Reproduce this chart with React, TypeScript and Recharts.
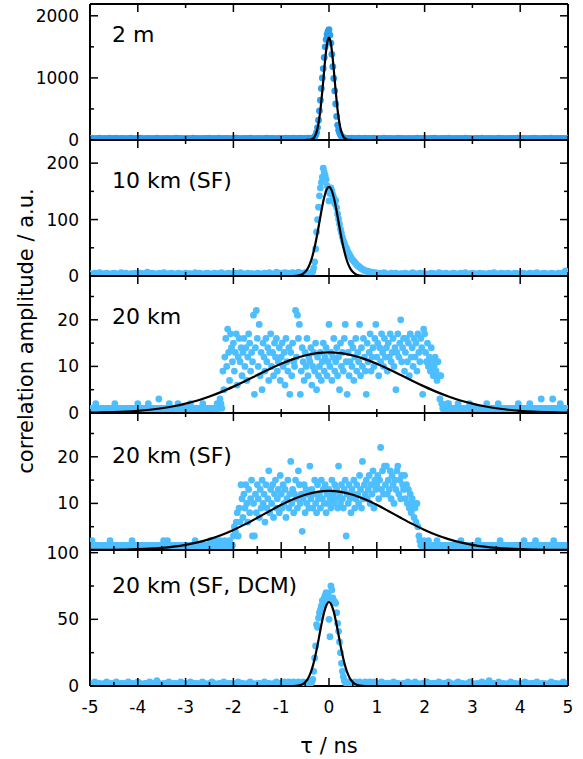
import React from 'react';
import { ComposedChart, Scatter, Line, XAxis, YAxis } from 'recharts';

// ---------------- labels & ticks ----------------
const panelLabels = ['2 m', '10 km (SF)', '20 km', '20 km (SF)', '20 km (SF, DCM)'];
const xTitle = 'τ / ns';
const yTitle = 'correlation amplitude / a.u.';
const xIntTicks = [-5, -4, -3, -2, -1, 0, 1, 2, 3, 4, 5];
const xHalfTicks = [-5, -4.5, -4, -3.5, -3, -2.5, -2, -1.5, -1, -0.5, 0, 0.5, 1, 1.5, 2, 2.5, 3, 3.5, 4, 4.5, 5];
const m2YTicks = [0, 500, 1000, 1500, 2000];
const m2YMajor = [0, 1000, 2000];
const km10YTicks = [0, 50, 100, 150, 200];
const km10YMajor = [0, 100, 200];
const km20YTicks = [0, 5, 10, 15, 20, 25];
const km20YMajor = [0, 10, 20];
const km20sfYMajor = [10, 20]; // its 0 label coincides with the "100" of the panel below
const dcmYTicks = [0, 25, 50, 75, 100];
const dcmYMajor = [0, 50, 100];

// ---------------- measured data (tau bins on regular grids) ----------------
// narrow panels: wings every 0.05 ns, core (-1..1) every 0.02 ns
// 2 m
const m2Left = [24,27,22,25,29,23,26,21,28,25,24,30,22,26,27,23,25,28,24,22,26,29,25,23,27,24,21,26,28,25,23,27,24,26,22,25,29,24,27,23,26,25,22,28,24,26,23,27,25,24,29,22,26,25,28,23,24,27,26,22,25,28,24,23,27,26,25,29,24,22,26,27,23,25,28,24,26,25,23,27];
const m2Core = [25,27,23,26,24,28,22,25,27,24,26,23,25,29,24,26,22,27,25,24,28,23,26,25,24,27,23,26,25,28,24,26,27,
  30,36,50,75,120,200,320,470,640,830,1000,1150,1330,1500,1620,1700,1750,1775,1690,1560,1380,1180,990,790,580,380,240,160,115,85,60,45,35,30,
  28,26,25,27,24,23,26,28,25,24,27,22,26,25,29,24,23,27,26,25,24,28,23,26,25,27,24,22,26,25,28,24,27,25];
const m2Right = [25,23,28,26,24,27,22,25,29,24,26,23,27,25,21,26,28,24,25,27,23,26,24,29,25,22,27,26,24,28,25,23,26,27,24,22,28,25,26,23,27,24,25,29,23,26,24,27,22,25,28,24,26,23,25,27,24,26,30,23,25,27,22,26,24,28,25,23,26,27,24,25,28,23,26,24,27,25,23,31];
// 10 km (SF)
const km10Left = [4,3,5,4,6,3,4,5,3,4,5,4,3,6,4,5,3,4,4,5,3,5,4,4,7,3,5,4,3,5,4,6,3,4,5,4,3,5,4,3,5,4,4,3,6,4,5,3,4,5,4,3,5,4,4,6,3,4,5,4,3,5,4,6,4,3,5,4,4,3,5,4,3,5,4,6,4,3,7,5];
const km10Core = [4,5,3,4,6,4,5,3,4,5,4,3,6,5,4,4,3,5,7,4,5,4,3,4,5,6,4,3,5,4,
  4,5,6,8,14,25,48,78,100,122,142,156,166,175,191,184,178,171,160,150,133,146,156,151,144,139,128,134,121,110,101,92,83,76,69,63,58,53,50,46,42,39,36,33,30,28,26,24,22,20,18,17,16,14,13,12,11,10,9,9,8,8,7,7,6,7,6,5,6,5,5];
const km10Right = [5,4,6,4,3,5,4,5,3,4,4,5,3,4,6,4,3,5,4,4,3,4,5,4,3,6,4,4,5,3,4,5,4,3,5,4,6,3,4,5,4,3,5,4,4,3,5,4,6,4,3,5,4,4,5,3,4,5,4,3,5,4,3,5,4,4,6,3,4,5,4,3,5,4,3,5,4,6,9,5];
// 20 km (SF, DCM)
const dcmLeft = [2,1,3,2,2,1,2,3,1,2,2,3,1,2,2,1,3,2,2,1,3,2,1,2,2,3,1,2,4,2,1,2,2,3,1,2,2,1,3,2,2,1,3,2,2,2,1,3,2,1,2,3,2,1,2,2,3,1,2,2,1,2,3,2,2,1,2,3,2,1,2,2,1,3,2,2,1,2,3,2];
const dcmCore = [2,1,2,3,2,2,1,2,3,2,1,2,2,3,2,1,2,2,3,1,2,2,1,3,2,2,1,2,2,3,2,
  2,3,5,11,21,30,46,44,51,55,57,60,64,61,66,68,70,65,69,50,37,75,72,66,64,63,62,55,47,41,33,25,17,11,7,4,3,
  2,2,1,3,2,2,1,2,2,3,2,1,2,2,3,2,1,2,2,2,3,1,2,2,2,3,2,1,2,2,3,2,2];
const dcmRight = [2,3,1,2,2,1,3,2,2,1,2,2,3,1,2,3,2,1,2,2,3,1,2,2,2,3,1,2,2,3,2,1,2,3,2,2,1,2,3,2,1,2,2,3,2,1,4,2,2,1,3,2,2,1,2,3,2,2,1,2,2,3,1,2,2,2,3,1,2,2,1,2,3,2,2,1,2,3,2,2];

// broad panels: wings every 0.02 ns, core (-2.4..2.4) every 0.02 ns
// 20 km
const km20Left = [1,0,1,1,0,1,2,1,0,1,1,1,0,1,1,0,1,1,1,0,1,0,1,1,0,1,2,1,1,0,1,1,0,1,1,1,0,1,0,1,1,0,1,1,0,1,1,1,0,1,2,1,0,1,1,0,1,1,0,1,1,2,1,0,1,1,1,0,1,1,0,1,3,1,0,1,1,0,1,1,1,0,1,2,1,0,1,1,0,1,1,1,2,0,1,1,0,1,1,0,1,0,1,1,1,2,0,1,1,0,1,1,0,1,1,0,1,1,2,1,0,1,1,0,1,1,1,0,1,1];
const km20Core = [1,0,1,2,1,1,3,2,1,9,
  5,12,16,10,18,13,7,17,14,11,
  15,9,13,17,6,12,16,11,14,8,
  13,16,10,14,7,12,17,15,9,13,
  11,21,4,14,22,16,10,19,8,13,
  5,15,12,9,16,11,14,7,13,17,
  10,13,8,15,12,16,9,11,14,7,
  12,15,10,13,6,16,11,9,14,4,
  13,8,15,11,10,22,12,21,16,19,
  4,9,14,11,7,13,10,16,8,12,
  11,14,6,10,13,9,15,5,12,8,
  10,13,7,11,15,9,12,14,8,11,
  19,10,13,7,12,16,9,11,14,8,
  12,5,15,10,13,9,16,19,11,4,
  13,8,11,15,10,14,7,12,16,9,
  13,11,19,8,14,10,16,12,9,4,
  15,11,13,17,9,12,14,10,16,19,
  12,15,8,14,11,17,13,10,16,12,
  14,9,15,12,17,11,13,16,10,14,
  5,13,17,12,15,20,11,14,16,9,
  13,16,11,15,8,17,12,14,10,16,
  12,15,9,17,13,11,16,14,4,18,
  17,13,11,15,10,12,9,14,11,8,
  10,12,9,7,11,8,3,8,2,1,
  0];
const km20Right = [1,1,0,2,2,1,0,1,1,0,1,0,1,1,2,1,0,1,1,1,0,1,1,0,1,1,2,1,0,1,1,0,1,1,1,0,1,0,1,1,0,1,1,1,2,0,1,1,0,1,1,0,1,1,0,1,2,1,1,0,1,1,0,1,1,0,1,1,1,0,1,0,1,1,0,1,1,2,0,1,1,1,0,1,1,0,1,1,1,2,0,1,1,0,1,1,0,1,1,1,0,3,1,1,0,1,1,0,1,1,1,0,1,3,1,1,0,1,1,0,1,2,1,0,1,1,1,0,1,1];
// 20 km (SF)
const km20sfLeft = [1,0,2,1,1,0,1,1,0,1,1,1,0,1,0,1,1,1,0,1,1,2,1,0,1,1,0,1,1,1,0,1,1,0,1,1,1,0,1,1,1,0,1,1,2,1,0,1,1,0,1,1,0,1,1,1,0,1,1,0,1,0,1,1,0,1,1,1,0,1,1,1,0,1,1,0,1,2,1,0,1,2,1,0,1,1,0,1,1,1,0,1,1,1,0,1,1,0,1,1,1,0,1,1,1,0,1,1,0,1,2,1,0,1,1,1,0,1,1,0,1,1,0,1,1,1,2,1,0,1];
const km20sfCore = [1,2,1,0,1,1,2,1,0,1,
  1,2,1,0,1,1,2,1,0,1,
  3,5,4,6,8,3,9,6,14,11,
  7,12,9,14,10,6,13,8,11,15,
  3,10,3,12,8,14,11,7,13,9,
  15,10,12,6,14,9,11,17,8,13,
  10,14,7,12,15,9,11,13,8,16,
  12,9,14,10,13,7,11,15,9,12,
  19,10,13,8,12,15,11,9,17,14,
  10,12,4,11,14,8,13,10,12,9,
  18,11,13,9,12,15,10,8,14,11,
  12,9,15,11,13,10,14,8,12,10,
  13,11,9,15,12,10,14,11,13,9,
  18,12,10,14,11,9,13,15,3,12,
  10,14,11,8,13,12,15,9,11,14,
  12,10,16,13,9,19,11,14,12,15,
  11,13,16,10,14,12,17,9,15,13,
  14,16,11,15,22,13,17,12,18,14,
  18,12,15,13,17,11,16,14,10,15,
  13,17,18,12,15,11,16,14,13,16,
  11,14,10,13,9,12,8,11,10,7,
  9,6,10,5,3,2,1,1,0,2,
  1,1,0,1,2,1,0,1,1,1,
  0,1,1,2,1,0,1,1,0,1,
  1];
const km20sfRight = [1,1,0,1,1,0,1,1,1,0,1,0,1,1,0,1,1,2,1,1,0,1,1,1,0,1,1,0,1,1,1,0,1,1,1,2,0,1,1,0,1,1,0,1,1,1,0,1,0,1,1,0,1,1,1,0,1,1,2,1,0,1,1,0,1,1,1,0,1,1,1,1,0,1,1,0,1,1,1,0,1,0,1,2,1,1,0,1,1,1,0,1,1,1,0,2,1,0,1,1,1,1,0,1,1,1,0,1,1,0,1,0,1,1,2,1,1,0,1,1,0,1,1,1,0,1,1,1,0,1];

// ---------------- Gaussian fit curves (tabulated) ----------------
const fitM2Tau = [-5,-1,-0.6,-0.5,-0.45,-0.4,-0.375,-0.35,-0.325,-0.3,-0.275,-0.25,-0.225,-0.2,-0.175,-0.15,-0.125,-0.1,-0.075,-0.05,-0.025,0,0.025,0.05,0.075,0.1,0.125,0.15,0.175,0.2,0.225,0.25,0.275,0.3,0.325,0.35,0.375,0.4,0.45,0.5,0.6,1,5];
const fitM2 = [0,0,0,0.1,0.8,3.9,8.1,16.1,30.4,54.9,94.6,155,243,364,518,705,914,1131,1334,1501,1611,1650,1611,1501,1334,1131,914,705,518,364,243,155,94.6,54.9,30.4,16.1,8.1,3.9,0.8,0.1,0,0,0];
const fitNarrowTau = [-5,-1,-0.8,-0.7,-0.6,-0.55,-0.5,-0.45,-0.4,-0.35,-0.3,-0.25,-0.2,-0.15,-0.1,-0.05,0,0.05,0.1,0.15,0.2,0.25,0.3,0.35,0.4,0.45,0.5,0.55,0.6,0.7,0.8,1,5];
const fitKm10 = [0,0,0,0.3,1.8,3.6,6.9,12.6,21.4,34.2,51.3,72.3,95.8,119.3,139.4,153.1,158,153.1,139.4,119.3,95.8,72.3,51.3,34.2,21.4,12.6,6.9,3.6,1.8,0.3,0,0,0];
const fitDcm = [0,0,0,0.14,0.7,1.4,2.8,5.0,8.5,13.6,20.5,28.8,38.2,47.6,55.6,61.0,63,61.0,55.6,47.6,38.2,28.8,20.5,13.6,8.5,5.0,2.8,1.4,0.7,0.14,0,0,0];
// broad fits tabulated every 0.25 ns from -5 to 5
const fitKm20 = [0.07,0.12,0.19,0.30,0.47,0.70,1.02,1.44,2.00,2.69,3.54,4.53,5.66,6.87,8.14,9.39,10.56,11.56,12.34,12.83,13.00,12.83,12.34,11.56,10.56,9.39,8.14,6.87,5.66,4.53,3.54,2.69,2.00,1.44,1.02,0.70,0.47,0.30,0.19,0.12,0.07];
const fitKm20sf = [0.02,0.03,0.05,0.10,0.17,0.28,0.46,0.73,1.11,1.64,2.34,3.23,4.31,5.55,6.91,8.32,9.69,10.91,11.87,12.49,12.70,12.49,11.87,10.91,9.69,8.32,6.91,5.55,4.31,3.23,2.34,1.64,1.11,0.73,0.46,0.28,0.17,0.10,0.05,0.03,0.02];

// ---------------- helpers ----------------
type Pt = { x: number; y: number };
const onGrid = (start: number, step: number, vals: number[]): Pt[] =>
  vals.map((v, i) => ({ x: Math.round((start + i * step) * 1000) / 1000, y: v }));
const zipPts = (xs: number[], ys: number[]): Pt[] => xs.map((x, i) => ({ x, y: ys[i] }));
const narrowPts = (l: number[], c: number[], r: number[]) => [...onGrid(-5, 0.05, l), ...onGrid(-1, 0.02, c), ...onGrid(1.05, 0.05, r)];
const broadPts = (l: number[], c: number[], r: number[]) => [...onGrid(-5, 0.02, l), ...onGrid(-2.4, 0.02, c), ...onGrid(2.42, 0.02, r)];

const FONT = 'DejaVu Sans, Verdana, sans-serif';
const BLUE = '#4DBEFF';
const DOT_R = 3.4;

type Mode = 'even' | 'half';
const PANELS = [
  { label: panelLabels[0], top: 4, bottom: 140, yMax: 2190, yTicks: m2YTicks, yMajor: m2YMajor, yLabels: m2YMajor, color: '#2B9FEE',
    points: narrowPts(m2Left, m2Core, m2Right), fit: zipPts(fitM2Tau, fitM2), topMode: 'even' as Mode, bottomMode: 'even' as Mode, labelY: 42 },
  { label: panelLabels[1], top: 140, bottom: 276, yMax: 241, yTicks: km10YTicks, yMajor: km10YMajor, yLabels: km10YMajor, color: BLUE,
    points: narrowPts(km10Left, km10Core, km10Right), fit: zipPts(fitNarrowTau, fitKm10), topMode: 'even' as Mode, bottomMode: 'even' as Mode, labelY: 188 },
  { label: panelLabels[2], top: 276, bottom: 413, yMax: 29.4, yTicks: km20YTicks, yMajor: km20YMajor, yLabels: km20YMajor, color: BLUE,
    points: broadPts(km20Left, km20Core, km20Right), fit: onGrid(-5, 0.25, fitKm20), topMode: 'even' as Mode, bottomMode: 'even' as Mode, labelY: 324 },
  { label: panelLabels[3], top: 413, bottom: 550, yMax: 29.4, yTicks: km20YTicks, yMajor: km20YMajor, yLabels: km20sfYMajor, color: BLUE,
    points: broadPts(km20sfLeft, km20sfCore, km20sfRight), fit: onGrid(-5, 0.25, fitKm20sf), topMode: 'even' as Mode, bottomMode: 'half' as Mode, labelY: 463 },
  { label: panelLabels[4], top: 550, bottom: 686, yMax: 102, yTicks: dcmYTicks, yMajor: dcmYMajor, yLabels: dcmYMajor, color: BLUE,
    points: narrowPts(dcmLeft, dcmCore, dcmRight), fit: zipPts(fitNarrowTau, fitDcm), topMode: 'half' as Mode, bottomMode: 'half' as Mode, labelY: 593 },
];

const AXIS = { stroke: '#000', strokeWidth: 2 };

function makeXTick(side: 'top' | 'bottom', mode: Mode, labels: boolean) {
  return (p: any) => {
    const v = p.payload.value;
    const major = mode === 'even' ? Math.abs(v % 2) === 0 : Number.isInteger(v);
    const len = major ? 8 : 4;
    const y2 = side === 'bottom' ? p.y - len : p.y + len;
    return (
      <g>
        <line x1={p.x} x2={p.x} y1={p.y} y2={y2} stroke="#000" strokeWidth={1.5} />
        {labels && major ? (
          <text x={p.x} y={p.y + 27} textAnchor="middle" fontSize={17} fontFamily={FONT} fill="#000">{String(v)}</text>
        ) : null}
      </g>
    );
  };
}

function makeYTick(side: 'left' | 'right', majors: number[], labelled: number[] | null) {
  return (p: any) => {
    const v = p.payload.value;
    const major = majors.includes(v);
    const len = major ? 8 : 4;
    const x2 = side === 'left' ? p.x + len : p.x - len;
    return (
      <g>
        <line x1={p.x} x2={x2} y1={p.y} y2={p.y} stroke="#000" strokeWidth={1.5} />
        {labelled && labelled.includes(v) ? (
          <text x={p.x - 11} y={p.y + 6} textAnchor="end" fontSize={17} fontFamily={FONT} fill="#000">{String(v)}</text>
        ) : null}
      </g>
    );
  };
}

export default function App() {
  return (
    <div style={{ position: 'absolute', left: 0, top: 0, width: 583, height: 759, background: '#fff', overflow: 'hidden' }}>
      {PANELS.map((p, idx) => {
        const last = idx === PANELS.length - 1;
        const mb = last ? 72 : 11;
        const h = 12 + (p.bottom - p.top) + 1 + mb;
        const color = p.color;
        return (
          <React.Fragment key={idx}>
            <div style={{ position: 'absolute', left: 0, top: p.top - 12 }}>
              <ComposedChart width={583} height={h} margin={{ top: 11, right: 14, bottom: mb, left: 0 }}>
                <Scatter
                  xAxisId="b"
                  yAxisId="l"
                  data={p.points}
                  dataKey="y"
                  isAnimationActive={false}
                  shape={(s: any) => <circle cx={s.cx} cy={s.cy} r={DOT_R} fill={color} />}
                />
                <XAxis xAxisId="b" dataKey="x" type="number" domain={[-5, 5]} allowDataOverflow
                  ticks={p.bottomMode === 'even' ? xIntTicks : xHalfTicks} interval={0}
                  tickSize={0} tickMargin={0} tickLine={false} axisLine={AXIS} height={1}
                  tick={makeXTick('bottom', p.bottomMode, last)} />
                <XAxis xAxisId="t" orientation="top" dataKey="x" type="number" domain={[-5, 5]} allowDataOverflow
                  ticks={p.topMode === 'even' ? xIntTicks : xHalfTicks} interval={0}
                  tickSize={0} tickMargin={0} tickLine={false} axisLine={AXIS} height={1}
                  tick={makeXTick('top', p.topMode, false)} />
                <YAxis yAxisId="l" dataKey="y" type="number" domain={[0, p.yMax]} allowDataOverflow
                  ticks={p.yTicks} interval={0} tickSize={0} tickMargin={0} tickLine={false} axisLine={AXIS} width={90}
                  tick={makeYTick('left', p.yMajor, p.yLabels)} />
                <YAxis yAxisId="r" orientation="right" dataKey="y" type="number" domain={[0, p.yMax]} allowDataOverflow
                  ticks={p.yTicks} interval={0} tickSize={0} tickMargin={0} tickLine={false} axisLine={AXIS} width={1}
                  tick={makeYTick('right', p.yMajor, null)} />
              </ComposedChart>
            </div>
            <div style={{ position: 'absolute', left: 0, top: p.top - 12, pointerEvents: 'none' }}>
              <ComposedChart width={583} height={h} margin={{ top: 12, right: 15, bottom: mb + 1, left: 90 }}>
                <XAxis xAxisId="b" dataKey="x" type="number" domain={[-5, 5]} allowDataOverflow hide />
                <YAxis yAxisId="l" dataKey="y" type="number" domain={[0, p.yMax]} allowDataOverflow hide />
                <Line
                  xAxisId="b"
                  yAxisId="l"
                  data={p.fit}
                  dataKey="y"
                  type="monotone"
                  dot={false}
                  activeDot={false}
                  stroke="#000"
                  strokeWidth={2.2}
                  isAnimationActive={false}
                />
              </ComposedChart>
            </div>
          </React.Fragment>
        );
      })}
      <svg width={583} height={759} style={{ position: 'absolute', left: 0, top: 0, pointerEvents: 'none' }}>
        {PANELS.map((p, idx) => (
          <text key={idx} x={112} y={p.labelY} fontSize={22} fontFamily={FONT} fill="#000">{p.label}</text>
        ))}
        <text x={329} y={753} textAnchor="middle" fontSize={21} fontFamily={FONT} fill="#000">{xTitle}</text>
        <text transform="translate(33,331) rotate(-90)" textAnchor="middle" fontSize={21} fontFamily={FONT} fill="#000">{yTitle}</text>
      </svg>
    </div>
  );
}
